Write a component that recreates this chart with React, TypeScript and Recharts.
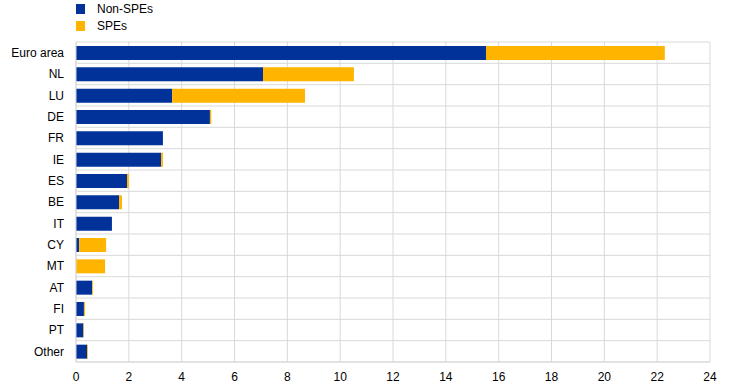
import React from "react";
import { BarChart, Bar, XAxis, YAxis, CartesianGrid, Legend } from "recharts";

const categories = ["Euro area", "NL", "LU", "DE", "FR", "IE", "ES", "BE", "IT", "CY", "MT", "AT", "FI", "PT", "Other"];
const nonSpes = [15.52, 7.08, 3.64, 5.07, 3.29, 3.22, 1.93, 1.63, 1.36, 0.12, 0, 0.61, 0.3, 0.28, 0.42];
const spes = [6.77, 3.44, 5.03, 0.05, 0, 0.07, 0.07, 0.11, 0, 1.02, 1.1, 0.03, 0.04, 0.02, 0.03];
const xTicks = [0, 2, 4, 6, 8, 10, 12, 14, 16, 18, 20, 22, 24];
const seriesNames = { nonSpes: "Non-SPEs", spes: "SPEs" };

const data = categories.map((name, i) => ({ name, nonSpes: nonSpes[i], spes: spes[i] }));

const BLUE = "#003299";
const YELLOW = "#FFB400";
const GRID = "#d9d9d9";
const FONT = "'Liberation Sans', Arial, sans-serif";

const LegendContent = (props: any) => {
  const payload = props.payload || [];
  return (
    <div style={{ fontFamily: FONT, fontSize: 12, color: "#000" }}>
      {payload.map((p: any, i: number) => (
        <div key={i} style={{ display: "flex", alignItems: "center", height: 17 }}>
          <span style={{ display: "inline-block", width: 9, height: 10, background: p.color, marginRight: 12 }} />
          <span>{p.value}</span>
        </div>
      ))}
    </div>
  );
};

export default function App() {
  return (
    <div style={{ position: "absolute", left: 0, top: 0, width: 744, height: 387, background: "#fff" }}>
      <BarChart
        width={744}
        height={387}
        data={data}
        layout="vertical"
        margin={{ top: 42, right: 34, bottom: 0, left: 0 }}
        barSize={14}
      >
        <CartesianGrid
          stroke={GRID}
          strokeWidth={1}
          horizontalCoordinatesGenerator={(p: any) => {
            const off = p.offset;
            const n = categories.length;
            const arr: number[] = [];
            for (let i = 0; i <= n; i++) arr.push(off.top + (i * off.height) / n);
            return arr;
          }}
        />
        <XAxis
          type="number"
          domain={[0, 24]}
          ticks={xTicks}
          interval={0}
          height={25}
          tickLine={false}
          tickMargin={4}
          axisLine={{ stroke: GRID }}
          tick={{ fontFamily: FONT, fontSize: 12, fill: "#000" }}
        />
        <YAxis
          type="category"
          dataKey="name"
          width={76}
          tickLine={false}
          tickMargin={6}
          axisLine={{ stroke: GRID }}
          interval={0}
          tick={{ fontFamily: FONT, fontSize: 12, fill: "#000" }}
        />
        <Legend
          verticalAlign="middle"
          align="center"
          layout="vertical"
          wrapperStyle={{ top: 0, left: 76, width: 200 }}
          content={LegendContent}
        />
        <Bar dataKey="nonSpes" name={seriesNames.nonSpes} stackId="a" fill={BLUE} isAnimationActive={false} />
        <Bar dataKey="spes" name={seriesNames.spes} stackId="a" fill={YELLOW} isAnimationActive={false} />
      </BarChart>
    </div>
  );
}
